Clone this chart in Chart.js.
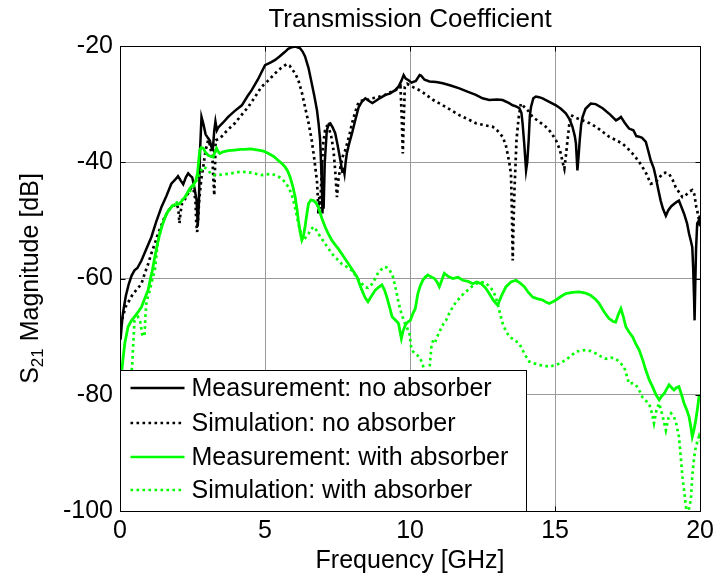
<!DOCTYPE html>
<html>
<head>
<meta charset="utf-8">
<script src="https://cdn.jsdelivr.net/npm/chart.js@4.4.1/dist/chart.umd.min.js"></script>
<style>
  html, body { margin: 0; padding: 0; background: #fff; }
  #chart { display: block; }
</style>
</head>
<body>
<canvas id="chart" width="719" height="577"></canvas>
<script>
// --- DATA: [frequency GHz, S21 dB] ---
const measNoAbs = [[0.02,-70.5],[0.06,-68],[0.1,-66],[0.2,-63],[0.3,-61],[0.4,-59.5],[0.5,-58.6],[0.6,-58.2],[0.74,-56.9],[0.9,-55],[1.08,-52.9],[1.25,-50.2],[1.43,-47.7],[1.6,-45.8],[1.77,-43.7],[1.9,-43],[2.0,-42.4],[2.1,-43.2],[2.18,-43.8],[2.27,-42.6],[2.35,-41.9],[2.42,-42.3],[2.49,-42.6],[2.57,-44.5],[2.64,-46.5],[2.68,-51],[2.72,-47],[2.76,-38],[2.81,-32.2],[2.88,-33.5],[2.95,-35.2],[3.03,-35.8],[3.1,-36.3],[3.16,-37.5],[3.2,-37.8],[3.25,-34.5],[3.29,-33],[3.34,-34.5],[3.39,-34],[3.55,-33.2],[3.73,-32.2],[3.95,-31.2],[4.2,-30.2],[4.4,-28.6],[4.54,-27.6],[4.75,-25.8],[5.0,-23.3],[5.2,-22.8],[5.35,-22.4],[5.5,-21.8],[5.69,-21],[5.8,-20.5],[5.92,-20.2],[6.05,-20.1],[6.21,-20.4],[6.3,-21],[6.38,-21.8],[6.5,-23.8],[6.61,-26.4],[6.7,-28.6],[6.79,-31],[6.85,-33.5],[6.9,-36.2],[6.93,-40],[6.96,-44],[6.98,-48.8],[7.0,-45],[7.02,-48],[7.06,-40],[7.13,-34.5],[7.2,-33.4],[7.25,-33.3],[7.33,-34],[7.42,-35],[7.5,-37],[7.6,-39.7],[7.66,-41.5],[7.71,-41.2],[7.74,-42],[7.78,-40],[7.82,-38.5],[7.9,-36.8],[8.0,-35],[8.1,-33],[8.23,-30.5],[8.35,-29.5],[8.46,-29],[8.6,-29.5],[8.7,-29.8],[8.8,-29.5],[8.95,-29],[9.15,-28.4],[9.3,-28.2],[9.49,-27.6],[9.6,-27],[9.7,-26],[9.78,-25],[9.85,-25.6],[9.95,-25.9],[10.05,-26.3],[10.2,-26],[10.33,-25],[10.38,-25.1],[10.5,-25.8],[10.67,-26.1],[10.9,-26.2],[11.13,-26.4],[11.4,-26.8],[11.7,-27.3],[12.0,-27.9],[12.27,-28.4],[12.5,-29],[12.73,-29.3],[13.0,-29.2],[13.19,-29.3],[13.4,-29.8],[13.54,-30.2],[13.65,-30.4],[13.77,-30.7],[13.84,-31.5],[13.88,-33.3],[13.94,-37],[14.0,-41.4],[14.04,-40],[14.09,-36.2],[14.13,-32],[14.17,-30.5],[14.25,-29],[14.34,-28.7],[14.45,-28.8],[14.57,-29],[14.8,-29.6],[15.03,-30.2],[15.2,-30.8],[15.37,-31.6],[15.5,-32.6],[15.6,-33.9],[15.68,-35.5],[15.72,-36.8],[15.77,-41.4],[15.81,-39],[15.85,-36.2],[15.9,-33.5],[15.95,-32.2],[16.05,-30.8],[16.23,-29.9],[16.4,-30],[16.64,-30.7],[16.9,-31.8],[17.1,-32.8],[17.2,-32.5],[17.27,-32.2],[17.4,-33.2],[17.55,-34.2],[17.7,-34.5],[17.8,-35.5],[17.9,-35.6],[18.0,-35.8],[18.13,-36.5],[18.2,-37.8],[18.3,-39.7],[18.4,-41],[18.47,-42.5],[18.55,-44.5],[18.64,-46.6],[18.72,-48],[18.82,-49.2],[18.9,-48.3],[19.0,-47.6],[19.1,-47.2],[19.2,-46.8],[19.27,-46.6],[19.35,-47.6],[19.45,-48.9],[19.55,-50.5],[19.62,-52.3],[19.68,-53.5],[19.73,-54.6],[19.76,-58],[19.79,-63],[19.81,-67.2],[19.83,-62],[19.86,-55],[19.9,-50.5],[19.96,-50],[20.0,-51]];

const simNoAbs = [[0.05,-68],[0.1,-66.5],[0.2,-64.8],[0.33,-63.7],[0.45,-62.6],[0.6,-61.8],[0.74,-60.9],[0.85,-59.2],[0.97,-57.5],[1.08,-55.7],[1.2,-54],[1.31,-52.3],[1.43,-50.8],[1.54,-49.4],[1.66,-48.4],[1.77,-47.7],[1.87,-47.4],[1.95,-47.1],[2.01,-48],[2.05,-50.5],[2.09,-48.5],[2.14,-47.1],[2.22,-46.5],[2.29,-46],[2.38,-45],[2.47,-44.3],[2.55,-45],[2.6,-46.5],[2.63,-50.5],[2.66,-52],[2.7,-49],[2.73,-46.6],[2.8,-43],[2.87,-40.8],[2.95,-38],[3.04,-36.2],[3.1,-37],[3.19,-39.7],[3.22,-43],[3.25,-45.7],[3.27,-42],[3.3,-36.2],[3.4,-36],[3.5,-35.6],[3.7,-34.5],[3.96,-33.3],[4.2,-31.8],[4.42,-30.5],[4.65,-28.8],[4.88,-27],[5.1,-26],[5.35,-24.7],[5.55,-23.8],[5.75,-23.1],[5.85,-23.4],[5.92,-23.9],[6.05,-24.8],[6.15,-25.9],[6.27,-28],[6.38,-30.5],[6.5,-33.2],[6.61,-36.2],[6.7,-39.5],[6.76,-42],[6.79,-43.1],[6.82,-46],[6.84,-48.9],[6.87,-46],[6.9,-48],[6.95,-42],[7.0,-37],[7.07,-34.5],[7.13,-33.8],[7.19,-33.9],[7.28,-35.5],[7.36,-37.9],[7.42,-41.5],[7.48,-46],[7.53,-43],[7.6,-40.8],[7.68,-39],[7.77,-37.9],[7.9,-35.5],[8.0,-33.3],[8.1,-31.5],[8.23,-29.6],[8.35,-29.4],[8.46,-29.3],[8.6,-29.2],[8.69,-29],[8.9,-28.8],[9.15,-28.4],[9.3,-28],[9.49,-27.6],[9.6,-27.3],[9.67,-27],[9.7,-30.5],[9.73,-35],[9.75,-38.5],[9.78,-33],[9.82,-27],[9.9,-26.5],[10.0,-26.8],[10.15,-27.2],[10.32,-27.6],[10.45,-28],[10.55,-28.4],[10.8,-29.3],[11.13,-30.2],[11.4,-31],[11.7,-31.9],[12.0,-32.6],[12.27,-33.3],[12.55,-33.6],[12.85,-33.9],[13.0,-34.5],[13.19,-35.6],[13.3,-37],[13.36,-38.5],[13.42,-40],[13.48,-42],[13.51,-48],[13.54,-56.9],[13.57,-50],[13.6,-44.8],[13.64,-40],[13.67,-36.2],[13.74,-32.5],[13.82,-29.9],[13.94,-30.5],[14.08,-31.2],[14.22,-32.2],[14.45,-33],[14.68,-33.9],[14.85,-34.8],[15.03,-36.2],[15.12,-37.3],[15.2,-38.5],[15.26,-40],[15.32,-41.1],[15.37,-39],[15.43,-36.2],[15.49,-33.5],[15.55,-31.9],[15.7,-32.3],[15.95,-32.8],[16.2,-33.3],[16.41,-33.9],[16.65,-34.8],[16.86,-35.6],[17.1,-36.2],[17.32,-36.8],[17.5,-37.6],[17.67,-38.5],[17.85,-39.6],[18.01,-40.8],[18.15,-42],[18.3,-43.7],[18.42,-43.5],[18.53,-43.1],[18.62,-42.5],[18.7,-42],[18.8,-41.8],[18.93,-42],[19.05,-43],[19.16,-44.3],[19.28,-45.2],[19.39,-46],[19.48,-45.8],[19.56,-45.4],[19.65,-45],[19.73,-44.8],[19.8,-45.5],[19.87,-47.7],[19.93,-49],[19.96,-50],[20.0,-49]];

const measAbs = [[0.02,-79],[0.06,-76],[0.1,-74],[0.17,-71],[0.28,-68.3],[0.4,-67.2],[0.5,-66.6],[0.62,-65.8],[0.74,-64.9],[0.85,-63.5],[0.97,-62],[1.03,-60.5],[1.1,-59],[1.2,-56.3],[1.28,-54.3],[1.37,-52.3],[1.48,-50.5],[1.6,-48.9],[1.72,-48],[1.83,-47.4],[1.95,-47.3],[2.06,-47.1],[2.15,-46.5],[2.24,-46],[2.33,-45.2],[2.41,-44.5],[2.5,-44],[2.56,-43.7],[2.62,-43],[2.67,-42],[2.71,-40],[2.75,-37.9],[2.8,-37.5],[2.87,-37.6],[2.95,-38.3],[3.04,-38.8],[3.13,-39],[3.21,-39.1],[3.27,-38.3],[3.33,-37.6],[3.39,-38.2],[3.44,-38.5],[3.55,-38.2],[3.73,-38],[3.95,-37.9],[4.15,-37.8],[4.3,-37.8],[4.5,-37.7],[4.77,-37.9],[4.95,-38.1],[5.12,-38.5],[5.3,-39],[5.46,-39.7],[5.6,-40.3],[5.69,-40.8],[5.78,-41.5],[5.86,-42.5],[5.95,-44],[6.04,-46],[6.1,-48],[6.15,-50],[6.21,-52],[6.27,-53.4],[6.32,-52.8],[6.38,-51.1],[6.44,-49],[6.5,-47.1],[6.58,-46.5],[6.67,-46.6],[6.76,-47],[6.84,-47.7],[6.95,-49.5],[7.07,-51.1],[7.18,-52.3],[7.3,-53.4],[7.42,-54.2],[7.53,-54.9],[7.65,-55.8],[7.77,-56.7],[7.88,-57.5],[8.0,-58.4],[8.1,-59.2],[8.17,-59.7],[8.25,-60.8],[8.34,-62],[8.45,-63.3],[8.55,-64],[8.65,-63.2],[8.8,-62],[8.92,-61.5],[9.03,-61.1],[9.12,-62],[9.2,-63.2],[9.3,-65],[9.38,-66.6],[9.5,-67.2],[9.6,-67.7],[9.65,-69],[9.7,-70.3],[9.76,-69],[9.84,-68],[9.92,-67.5],[10.01,-67.2],[10.1,-66],[10.18,-65.2],[10.27,-62.6],[10.35,-61.3],[10.44,-60.3],[10.52,-59.8],[10.61,-59.4],[10.72,-59.7],[10.84,-60],[10.93,-60.6],[11.01,-61.4],[11.1,-60.2],[11.18,-59.1],[11.3,-59.6],[11.47,-60],[11.65,-59.8],[11.82,-60.3],[12.0,-60.5],[12.16,-60.9],[12.3,-60.6],[12.45,-60.9],[12.6,-61.6],[12.73,-62.6],[12.88,-63.8],[13.02,-64.6],[13.15,-63],[13.31,-61.4],[13.48,-60.6],[13.65,-60.3],[13.8,-60.8],[13.94,-61.4],[14.08,-62.4],[14.23,-63.2],[14.4,-63.5],[14.57,-63.7],[14.7,-64.1],[14.8,-64.3],[14.92,-64],[15.03,-63.7],[15.2,-63.1],[15.37,-62.6],[15.6,-62.4],[15.83,-62.3],[16.05,-62.5],[16.23,-62.9],[16.4,-63.6],[16.52,-64.3],[16.7,-65.8],[16.86,-66.9],[17.0,-67.4],[17.09,-67.5],[17.18,-66.2],[17.27,-65.2],[17.35,-66.5],[17.44,-68.3],[17.55,-69.2],[17.67,-70],[17.78,-71.2],[17.9,-72.3],[18.02,-74],[18.13,-75.8],[18.25,-77.5],[18.36,-78.6],[18.48,-80],[18.59,-80.9],[18.68,-80.2],[18.76,-79.8],[18.85,-79],[18.93,-78.3],[19.02,-78.8],[19.1,-79.2],[19.18,-78.8],[19.27,-78.6],[19.36,-80],[19.45,-81.5],[19.54,-82.6],[19.62,-83.8],[19.68,-85.5],[19.73,-87.2],[19.79,-86],[19.85,-84.4],[19.92,-82],[19.96,-80.4],[20.0,-80]];

const simAbs = [[0.28,-82],[0.35,-78],[0.42,-75],[0.47,-70],[0.5,-67.2],[0.56,-66.8],[0.62,-66.6],[0.7,-67.5],[0.76,-69.5],[0.8,-70],[0.85,-69.5],[0.88,-66],[0.91,-64.3],[0.97,-63],[1.03,-62],[1.12,-60],[1.2,-58.6],[1.3,-54],[1.43,-51.1],[1.55,-49.5],[1.66,-48.3],[1.78,-47.6],[1.89,-47.1],[2.0,-46.8],[2.12,-46.6],[2.24,-46],[2.35,-45.4],[2.44,-44.8],[2.52,-44.3],[2.61,-43.4],[2.7,-42.5],[2.78,-41.6],[2.87,-40.8],[2.95,-41],[3.04,-41.4],[3.12,-41.9],[3.21,-42.2],[3.3,-42.2],[3.39,-42.2],[3.55,-42.1],[3.73,-42],[3.95,-41.8],[4.19,-41.6],[4.35,-41.7],[4.54,-41.8],[4.7,-42],[4.88,-42.2],[5.05,-42.1],[5.23,-42],[5.4,-42.3],[5.58,-42.8],[5.7,-43.5],[5.81,-44.3],[5.9,-45.3],[5.98,-46.6],[6.07,-48.6],[6.15,-50.6],[6.24,-52.2],[6.33,-53.4],[6.42,-52.8],[6.5,-52.3],[6.58,-51.6],[6.67,-51.1],[6.76,-51.6],[6.84,-52.3],[6.95,-53.1],[7.07,-54],[7.18,-54.8],[7.3,-55.7],[7.47,-56.6],[7.65,-57.5],[7.82,-58],[7.99,-58.6],[8.08,-59.2],[8.17,-59.8],[8.25,-60.4],[8.34,-60.9],[8.45,-61.5],[8.55,-61.6],[8.68,-61],[8.8,-60],[8.9,-59],[9.0,-58.5],[9.1,-58],[9.2,-58.1],[9.3,-58.6],[9.4,-59.5],[9.49,-61.4],[9.55,-62.8],[9.61,-64.3],[9.7,-66],[9.8,-67.5],[9.9,-68.5],[9.98,-69.5],[10.04,-71.8],[10.1,-72.5],[10.15,-72.9],[10.25,-73.2],[10.32,-73.5],[10.42,-74.5],[10.5,-76],[10.56,-77.5],[10.62,-78],[10.68,-75],[10.74,-71.5],[10.8,-70.6],[10.86,-71],[10.92,-70.3],[10.98,-69.5],[11.07,-68.6],[11.15,-67.8],[11.24,-67.2],[11.35,-66],[11.47,-64.9],[11.58,-64.1],[11.7,-63.4],[11.85,-62.6],[11.99,-62],[12.13,-61.4],[12.27,-60.9],[12.42,-60.7],[12.56,-60.6],[12.7,-61.2],[12.85,-62],[12.94,-63],[13.02,-64.3],[13.1,-66],[13.19,-67.7],[13.3,-69],[13.42,-70],[13.6,-70.6],[13.77,-71.2],[13.85,-72],[13.94,-72.9],[14.02,-73.6],[14.11,-74.3],[14.28,-74.6],[14.46,-74.9],[14.63,-75],[14.8,-75.2],[14.92,-75],[15.03,-74.9],[15.2,-74.5],[15.37,-74],[15.55,-73.3],[15.72,-72.6],[15.9,-72.4],[16.06,-72.3],[16.23,-72.5],[16.41,-72.9],[16.58,-73.4],[16.75,-73.8],[16.92,-73.6],[17.09,-73.8],[17.24,-74.5],[17.38,-75.2],[17.46,-76.5],[17.55,-78.1],[17.66,-78],[17.78,-78.3],[17.9,-79.2],[18.01,-80.4],[18.12,-81],[18.24,-81.5],[18.33,-83],[18.41,-84.9],[18.5,-82.5],[18.59,-81.5],[18.7,-83.5],[18.82,-86.1],[18.91,-84],[19.0,-83.2],[19.1,-83.8],[19.18,-85],[19.27,-87.2],[19.33,-90.5],[19.39,-94.1],[19.45,-96.5],[19.5,-98.7],[19.56,-101],[19.62,-99.5],[19.68,-98.1],[19.73,-94],[19.79,-91],[19.85,-89],[19.91,-88],[19.96,-87.2],[20.0,-88]];

const seriesNames = ["Measurement: no absorber", "Simulation: no absorber", "Measurement: with absorber", "Simulation: with absorber"];
const chartTitle = "Transmission Coefficient";
const xTitle = "Frequency [GHz]";
const xRange = [0, 20], xStep = 5;
const yRange = [-100, -20], yStep = 20;

const FONT = "'Liberation Sans', Arial, sans-serif";
const GREEN = "#00ff00";
const DOT = [2.6, 3.4];

Chart.defaults.font.family = FONT;
Chart.defaults.color = "#000";

const toXY = arr => arr.map(p => ({ x: p[0], y: p[1] }));

const styles = [
  { color: "#000", dash: [] },
  { color: "#000", dash: DOT },
  { color: GREEN, dash: [] },
  { color: GREEN, dash: DOT }
];

// --- title centred over the axes ---
const titlePlugin = {
  id: "axTitle",
  afterDraw(chart) {
    const { ctx, chartArea: a } = chart;
    ctx.save();
    ctx.font = "26px " + FONT; ctx.fillStyle = "#000";
    ctx.textAlign = "center"; ctx.textBaseline = "middle";
    ctx.fillText(chartTitle, (a.left + a.right) / 2, 20);
    ctx.restore();
  }
};

// --- box round the axes plus inward tick marks (MATLAB style) ---
const boxPlugin = {
  id: "box",
  afterDatasetsDraw(chart) {
    const { ctx, chartArea: a, scales } = chart;
    const L = Math.round(a.left) + 0.5, T = Math.round(a.top) + 0.5;
    const R = Math.round(a.right) + 0.5, B = Math.round(a.bottom) + 0.5;
    ctx.save();
    ctx.strokeStyle = "#000"; ctx.lineWidth = 1;
    ctx.beginPath();
    scales.x.ticks.forEach(t => {
      const px = Math.round(scales.x.getPixelForValue(t.value)) + 0.5;
      ctx.moveTo(px, B); ctx.lineTo(px, B - 5);
      ctx.moveTo(px, T); ctx.lineTo(px, T + 5);
    });
    scales.y.ticks.forEach(t => {
      const py = Math.round(scales.y.getPixelForValue(t.value)) + 0.5;
      ctx.moveTo(L, py); ctx.lineTo(L + 5, py);
      ctx.moveTo(R, py); ctx.lineTo(R - 5, py);
    });
    ctx.stroke();
    ctx.strokeRect(L, T, R - L, B - T);
    ctx.restore();
  }
};

// --- legend inside bottom-left of the axes ---
const legendPlugin = {
  id: "boxLegend",
  afterDatasetsDraw(chart) {
    const { ctx, chartArea: a } = chart;
    const x0 = Math.round(a.left) + 0.5, y0 = 370.5, w = 406, h = Math.round(a.bottom) - 370;
    ctx.save();
    ctx.fillStyle = "#fff"; ctx.fillRect(x0, y0, w, h);
    ctx.strokeStyle = "#000"; ctx.lineWidth = 1; ctx.strokeRect(x0, y0, w, h);
    const rows = [388, 423, 457, 490];
    seriesNames.forEach((name, i) => {
      const st = styles[i];
      ctx.beginPath();
      ctx.setLineDash(st.dash);
      ctx.strokeStyle = st.color; ctx.lineWidth = 2.6;
      ctx.moveTo(x0 + 10, rows[i]); ctx.lineTo(x0 + 64, rows[i]);
      ctx.stroke();
      ctx.setLineDash([]);
      ctx.fillStyle = "#000";
      ctx.font = "25px " + FONT;
      ctx.textBaseline = "middle"; ctx.textAlign = "left";
      ctx.fillText(name, x0 + 71, rows[i] + 1);
    });
    ctx.restore();
  }
};

// --- y axis title with subscript ---
const yTitlePlugin = {
  id: "yTitle",
  afterDraw(chart) {
    const { ctx, chartArea: a } = chart;
    const big = "25px " + FONT, small = "17px " + FONT;
    const parts = [["S", big, 0], ["21", small, 7], [" Magnitude [dB]", big, 0]];
    ctx.save();
    let total = 0;
    parts.forEach(p => { ctx.font = p[1]; total += ctx.measureText(p[0]).width; });
    ctx.translate(31, (a.top + a.bottom) / 2);
    ctx.rotate(-Math.PI / 2);
    ctx.fillStyle = "#000"; ctx.textBaseline = "middle"; ctx.textAlign = "left";
    let x = -total / 2;
    parts.forEach(p => { ctx.font = p[1]; ctx.fillText(p[0], x, p[2]); x += ctx.measureText(p[0]).width; });
    ctx.restore();
  }
};

const ctx = document.getElementById("chart").getContext("2d");
new Chart(ctx, {
  type: "line",
  data: {
    datasets: [measNoAbs, simNoAbs, measAbs, simAbs].map((d, i) => ({
      label: seriesNames[i], data: toXY(d),
      borderColor: styles[i].color, borderDash: styles[i].dash,
      borderWidth: i % 2 === 1 ? 2.7 : (i === 2 ? 2.8 : 2.5), borderCapStyle: "butt",
      pointRadius: 0, tension: 0, fill: false, order: 4 - i
    }))
  },
  options: {
    responsive: false, animation: false, devicePixelRatio: 1,
    layout: { padding: { left: 0, right: 18, top: 46, bottom: 0 } },
    plugins: {
      legend: { display: false }, tooltip: { enabled: false }, title: { display: false }
    },
    scales: {
      x: {
        type: "linear", min: xRange[0], max: xRange[1],
        afterFit: s => { s.height = 66; },
        grid: { color: "#9a9a9a", lineWidth: 1, drawTicks: false },
        border: { color: "#000", width: 1 },
        ticks: { stepSize: xStep, padding: 5, font: { size: 25 }, color: "#000", maxRotation: 0 },
        title: { display: true, text: xTitle, color: "#000", font: { size: 25 }, padding: { top: 0, bottom: 1 } }
      },
      y: {
        type: "linear", min: yRange[0], max: yRange[1],
        afterFit: s => { s.width = 120; },
        grid: { color: "#9a9a9a", lineWidth: 1, drawTicks: false },
        border: { color: "#000", width: 1 },
        ticks: { stepSize: yStep, padding: 7, font: { size: 25 }, color: "#000" }
      }
    }
  },
  plugins: [boxPlugin, legendPlugin, titlePlugin, yTitlePlugin]
});
</script>
</body>
</html>
